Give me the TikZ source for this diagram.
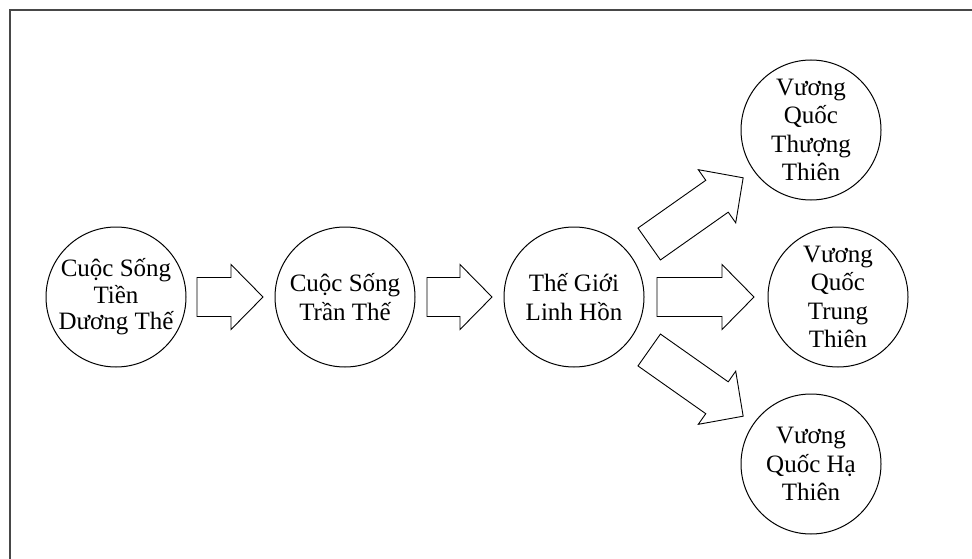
\documentclass[tikz,border=0pt]{standalone}
\usepackage{fontspec}
\setmainfont{Liberation Serif}
\usetikzlibrary{positioning,calc}

% broad arrow from one realm to the next: #3, #4 = distance of tail and tip from the centres
\newcommand{\fatarrow}[4]{%
  \coordinate (ftail) at ($(#1)!#3!(#2)$);
  \coordinate (ftip) at ($(#2)!#4!(#1)$);
  \coordinate (fneck) at ($(ftip)!32pt!(ftail)$);
  \draw[fat] ($(ftail)!19.5pt!90:(ftip)$) -- ($(fneck)!19.5pt!-90:(ftail)$)
    -- ($(fneck)!32.5pt!-90:(ftail)$) -- (ftip) -- ($(fneck)!32.5pt!90:(ftail)$)
    -- ($(fneck)!19.5pt!90:(ftail)$) -- ($(ftail)!19.5pt!-90:(ftip)$) -- cycle;}

\begin{document}
\begin{tikzpicture}[x=1pt,y=-1pt,node distance=88pt]
  \tikzstyle{realm}=[draw,circle,line width=1pt,minimum size=140pt,inner sep=0pt,align=center,font=\fontsize{25}{28.5}\selectfont]
  \tikzstyle{fat}=[draw,line width=0.9pt,fill=white,line join=miter]
  \useasboundingbox (0,0) rectangle (972,559);
  \draw[line width=2pt,black!72] (972,10) -- (10,10) -- (10,559);
  \node[realm,font=\fontsize{25}{26.5}\selectfont] (tiendt) at (116,297) {Cuộc Sống\\Tiền\\Dương Thế};
  \node[realm,right=of tiendt] (tranthe) {Cuộc Sống\\Trần Thế};
  \node[realm,right=of tranthe] (linhhon) {Thế Giới\\Linh Hồn};
  \node[realm,right=123pt of linhhon] (trung) {Vương\\Quốc\\Trung\\Thiên};
  \node[realm] (thuong) at (811,130) {Vương\\Quốc\\Thượng\\Thiên};
  \node[realm] (ha) at (811,464) {Vương\\Quốc Hạ\\Thiên};
  \fatarrow{tiendt}{tranthe}{81pt}{82pt}
  \fatarrow{tranthe}{linhhon}{82pt}{82pt}
  \fatarrow{linhhon}{trung}{83pt}{84pt}
  \fatarrow{linhhon}{thuong}{92pt}{83pt}
  \fatarrow{linhhon}{ha}{92pt}{83pt}
\end{tikzpicture}
\end{document}
